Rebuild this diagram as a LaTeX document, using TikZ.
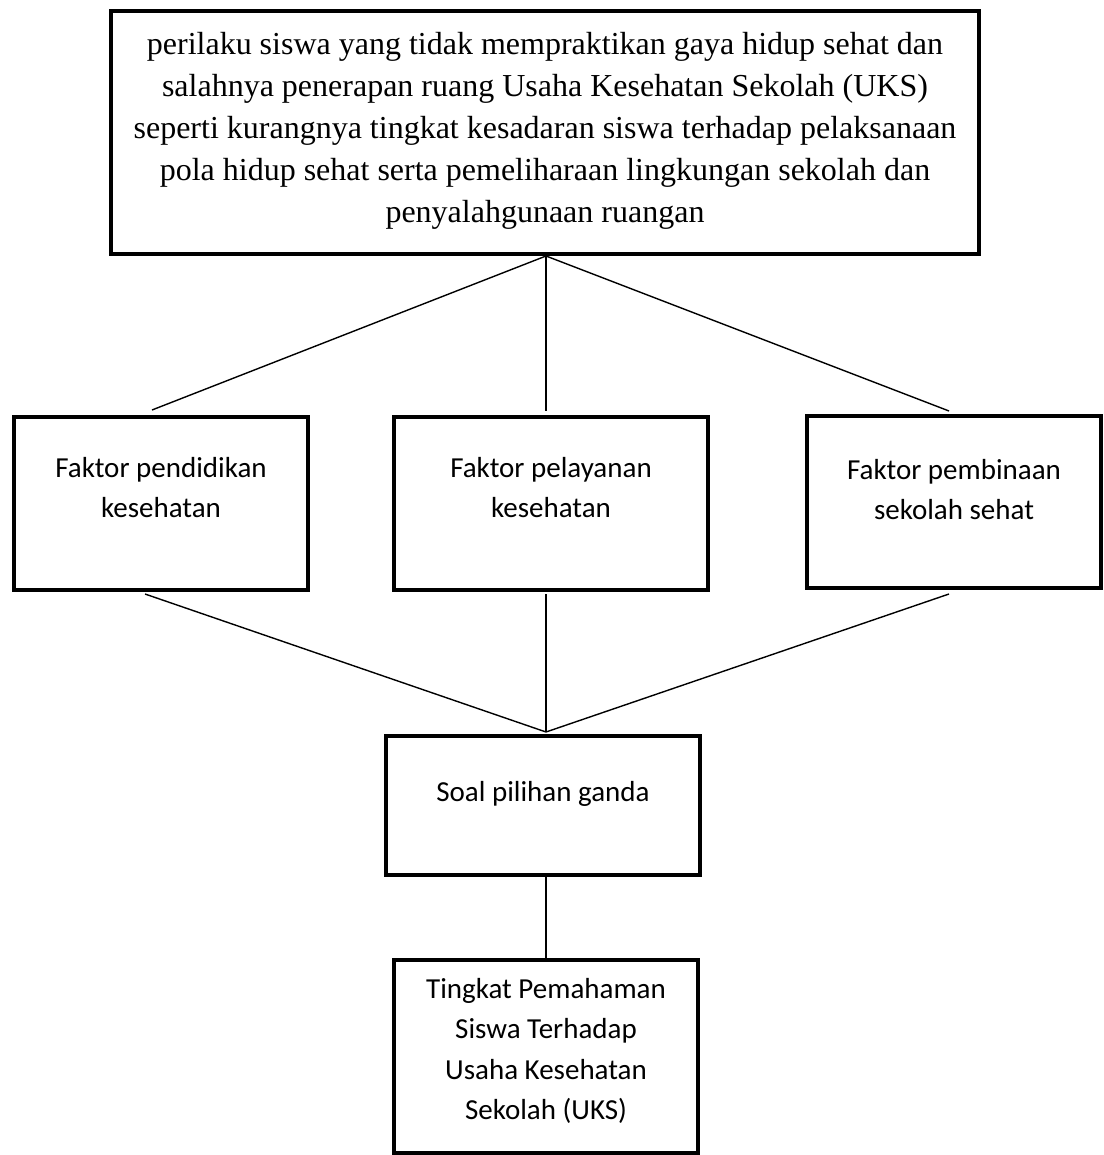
\documentclass[tikz,border=0pt]{standalone}
\usepackage{fontspec}
\setmainfont{Liberation Serif}
\newfontfamily\calfont{Carlito}
\begin{document}
\begin{tikzpicture}[x=1pt,y=-1pt,
  box/.style={draw, line width=4pt, inner sep=0pt, align=flush center, anchor=north west, line join=miter},
  serif/.style={font=\fontsize{32}{42}\selectfont},
  sans/.style={font=\calfont\fontsize{29}{40.5}\selectfont},
  conn/.style={draw, line width=1.4pt}]
\useasboundingbox (0,0) rectangle (1103,1155);
\node[box, serif, text width=868pt, text height=44pt, text depth=199pt] (top) at (109,9)
  {perilaku siswa yang tidak mempraktikan gaya hidup sehat dan\\
   salahnya penerapan ruang Usaha Kesehatan Sekolah (UKS)\\
   seperti kurangnya tingkat kesadaran siswa terhadap pelaksanaan\\
   pola hidup sehat serta pemeliharaan lingkungan sekolah dan\\
   penyalahgunaan ruangan};
\node[box, sans, text width=294pt, text height=60pt, text depth=113pt] (left) at (12,415)
  {Faktor pendidikan\\kesehatan};
\node[box, sans, text width=314pt, text height=60pt, text depth=113pt] (mid) at (392,415)
  {Faktor pelayanan\\kesehatan};
\node[box, sans, text width=294pt, text height=63pt, text depth=109pt] (right) at (805,414)
  {Faktor pembinaan\\sekolah sehat};
\node[box, sans, text width=314pt, text height=65pt, text depth=74pt] (soal) at (384,734)
  {Soal pilihan ganda};
\node[box, sans, text width=304pt, text height=38pt, text depth=155pt] (bot) at (392,958)
  {Tingkat Pemahaman\\Siswa Terhadap\\Usaha Kesehatan\\Sekolah (UKS)};
\path[conn] ([xshift=1pt]top.south) -- ([xshift=-9pt,yshift=5pt]left.north);
\path[conn] ([xshift=1pt]top.south) -- ([xshift=-5pt,yshift=4pt]mid.north);
\path[conn] ([xshift=1pt]top.south) -- ([xshift=-5pt,yshift=3pt]right.north);
\coordinate (meet) at ([xshift=3pt,yshift=2pt]soal.north);
\path[conn] ([xshift=-16pt,yshift=-2pt]left.south) -- (meet);
\path[conn] ([xshift=-5pt,yshift=-2pt]mid.south) -- (meet);
\path[conn] ([xshift=-5pt,yshift=-4pt]right.south) -- (meet);
\path[conn] ([xshift=3pt]soal.south) -- (bot.north);
\end{tikzpicture}
\end{document}
